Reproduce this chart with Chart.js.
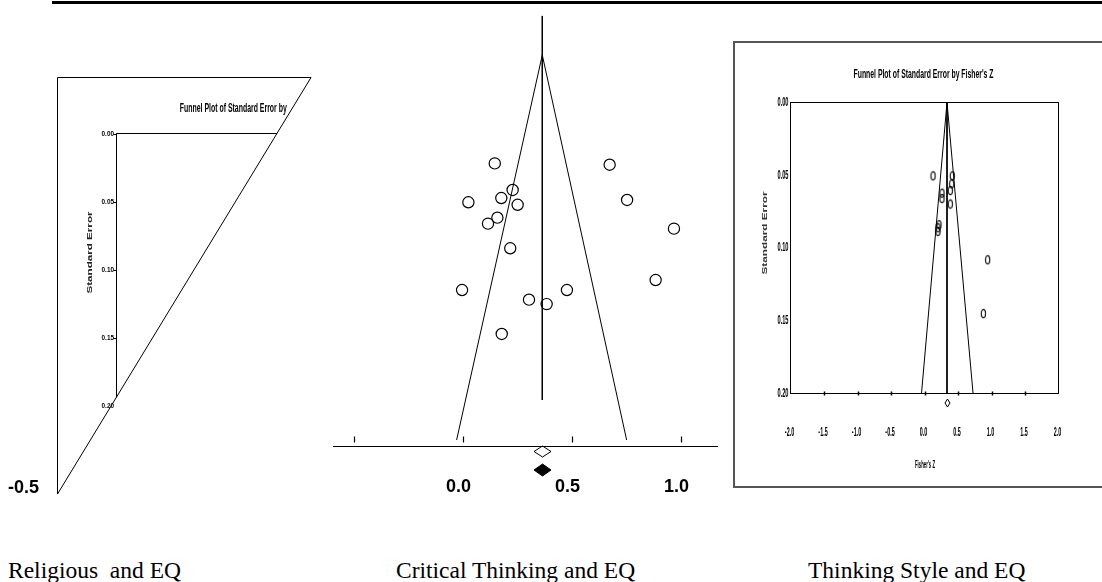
<!DOCTYPE html>
<html><head><meta charset="utf-8">
<script src="https://cdn.jsdelivr.net/npm/chart.js@4.4.1/dist/chart.umd.min.js"></script>
<style>
html,body{margin:0;padding:0;background:#fff;overflow:hidden;width:1102px;height:582px;}
#wrap{position:relative;width:1102px;height:582px;overflow:hidden;background:#fff;}
canvas{position:absolute;}
.cap{position:absolute;font-family:'Liberation Serif','Times New Roman',serif;font-size:23.5px;line-height:23.5px;white-space:pre;color:#000;top:559px;}
#lblNeg{position:absolute;left:8px;top:478px;font:bold 18px 'Liberation Sans',Arial,sans-serif;line-height:18px;color:#000;}
</style></head><body><div id="wrap">
<div style="position:absolute;left:52px;top:1px;width:1050px;height:3px;background:#000"></div>
<div style="position:absolute;left:733px;top:41px;width:400px;height:443px;border:2px solid #555;border-right:none;"></div>
<canvas id="c1" width="390" height="520" style="left:0;top:0"></canvas>
<canvas id="c2" width="400" height="500" style="left:330px;top:0"></canvas>
<canvas id="c3" width="366" height="440" style="left:736px;top:44px"></canvas>
<span id="lblNeg">-0.5</span>
<div class="cap" style="left:8px">Religious  and EQ</div>
<div class="cap" style="left:396px">Critical Thinking and EQ</div>
<div class="cap" style="left:808px">Thinking Style and EQ</div>
</div>
<script>
// ---------- shared tick data ----------
const seTicks = [0, 0.05, 0.10, 0.15, 0.20];
const seTickLabels = ['0.00', '0.05', '0.10', '0.15', '0.20'];

// ---------- Panel 1: Religious and EQ (cropped funnel frame) ----------
const reTitle = 'Funnel Plot of Standard Error by';
const reYTitle = 'Standard Error';
const reFrameX = [-2.887, 0.925, -2.887, -2.887];
const reFrameSE = [-0.0411, -0.0411, 0.2646, -0.0411];
const reBoxX = [0.413, -2, -2];
const reBoxSE = [0, 0, 0.1935];
const reTickValues = [0, 0.05, 0.10, 0.15];

// ---------- Panel 2: Critical Thinking and EQ ----------
const ctEffect = [0.148, 0.675, 0.230, 0.178, 0.027, 0.253, 0.755, 0.160, 0.117, 0.970, 0.219, 0.886, -0.002, 0.479, 0.305, 0.386, 0.180];
const ctSE     = [0.0563, 0.0570, 0.0701, 0.0743, 0.0765, 0.0778, 0.0753, 0.0845, 0.0876, 0.0902, 0.1004, 0.1169, 0.1221, 0.1221, 0.1271, 0.1294, 0.1449];
const ctMean = 0.366;
const ctFunnelX  = [-0.027, 0.366, 0.753];
const ctFunnelSE = [0.2, 0, 0.2];
const ctCenterSE = [-0.0203, 0.1792];
const ctTicks = [-0.5, 0, 0.5, 1.0];
const ctTickLabels = ['0.0', '0.5', '1.0'];
const ctLabelTicks = [0, 0.5, 1.0];
const ctSummarySE = [0.2061, 0.2156];

// ---------- Panel 3: Thinking Style and EQ ----------
const tsTitle = "Funnel Plot of Standard Error by Fisher's Z";
const tsXTitle = "Fisher's Z";
const tsYTitle = 'Standard Error';
const tsZ  = [0.127, 0.415, 0.406, 0.385, 0.261, 0.261, 0.385, 0.216, 0.201, 0.201, 0.943, 0.878];
const tsSE = [0.0504, 0.0504, 0.0559, 0.0605, 0.0623, 0.0660, 0.0698, 0.0840, 0.0861, 0.0886, 0.1081, 0.1451];
const tsMean = 0.336;
const tsFunnelZ  = [-0.045, 0.336, 0.725];
const tsFunnelSE = [0.2, 0, 0.2];
const tsXTicks = [-2.0, -1.5, -1.0, -0.5, 0.0, 0.5, 1.0, 1.5, 2.0];
const tsXTickLabels = ['-2.0', '-1.5', '-1.0', '-0.5', '0.0', '0.5', '1.0', '1.5', '2.0'];
const tsSummarySE = 0.2065;

// ---------- helpers ----------
const SANS = "'Liberation Sans', Arial, sans-serif";
function pts(xs, ys) { return xs.map((x, i) => ({x: x, y: ys[i]})); }
function lineDS(xs, ys, extra) {
  return Object.assign({data: pts(xs, ys), showLine: true, pointRadius: 0, pointHoverRadius: 0,
    borderColor: '#000', borderWidth: 1, clip: false, tension: 0, fill: false}, extra || {});
}
function diamond(w, h, filled, lw) {
  const c = document.createElement('canvas');
  c.width = w + 4; c.height = h + 4;
  const g = c.getContext('2d');
  g.beginPath();
  g.moveTo(c.width / 2, 2); g.lineTo(c.width - 2, c.height / 2);
  g.lineTo(c.width / 2, c.height - 2); g.lineTo(2, c.height / 2); g.closePath();
  if (filled) { g.fillStyle = '#000'; g.fill(); }
  g.lineWidth = lw; g.strokeStyle = '#000'; g.stroke();
  return c;
}
function zeroGlyph() {
  const c = document.createElement('canvas');
  c.width = 9; c.height = 13;
  const g = c.getContext('2d');
  g.beginPath(); g.ellipse(4.5, 6.5, 2.1, 4.1, 0, 0, Math.PI * 2);
  g.lineWidth = 1.1; g.strokeStyle = '#000'; g.stroke();
  return c;
}
function txt(ctx, str, x, y, font, o) {
  o = o || {};
  ctx.save();
  ctx.font = font;
  const m = ctx.measureText(str).width;
  const sx = o.width ? o.width / m : (o.sx || 1);
  ctx.translate(x, y);
  if (o.rot) ctx.rotate(o.rot);
  ctx.scale(sx, 1);
  ctx.textAlign = o.align || 'center';
  ctx.textBaseline = 'middle';
  ctx.fillStyle = o.color || '#000';
  ctx.fillText(str, 0, 0);
  ctx.restore();
}
function seg(ctx, x1, y1, x2, y2, lw) {
  ctx.save(); ctx.beginPath(); ctx.moveTo(x1, y1); ctx.lineTo(x2, y2);
  ctx.lineWidth = lw || 1; ctx.strokeStyle = '#000'; ctx.stroke(); ctx.restore();
}
function marker(ctx, img, X, Y) {
  ctx.drawImage(img, Math.round(X - img.width / 2), Math.round(Y - img.height / 2));
}
function makeChart(id, pad, xr, yr, datasets, drawFn) {
  return new Chart(document.getElementById(id), {
    type: 'scatter',
    data: {datasets: datasets},
    options: {
      responsive: false, animation: false, events: [],
      layout: {padding: pad},
      plugins: {legend: {display: false}, tooltip: {enabled: false}, title: {display: false}},
      scales: {
        x: {type: 'linear', display: false, min: xr[0], max: xr[1]},
        y: {type: 'linear', display: false, min: yr[0], max: yr[1], reverse: true}
      }
    },
    plugins: [{id: 'deco', afterDatasetsDraw(chart) {
      drawFn(chart, chart.ctx, chart.scales.x, chart.scales.y, chart.chartArea);
    }}]
  });
}

// ---------- Panel 1 ----------
makeChart('c1', {left: 116.5, right: 7.5, top: 133.5, bottom: 114}, [-2, 2], [0, 0.2], [
  lineDS(reFrameX, reFrameSE),
  lineDS(reBoxX, reBoxSE)
], function (chart, ctx, x, y, a) {
  reTickValues.forEach(v => { const Y = Math.round(y.getPixelForValue(v)) + 0.5; seg(ctx, a.left - 3, Y, a.left, Y, 1); });
  seTicks.forEach((v, i) => txt(ctx, seTickLabels[i], a.left - 2.5, y.getPixelForValue(v), 'bold 8px ' + SANS, {align: 'right', sx: 0.8}));
  txt(ctx, reTitle, 233.3, 108, 'bold 13px ' + SANS, {width: 107});
  txt(ctx, reYTitle, 90, 252.5, 'bold 7px ' + SANS, {width: 82, rot: -Math.PI / 2, color: '#222'});
});

// ---------- Panel 2 ----------
const hollowD = diamond(17, 11, false, 1);
const filledD = diamond(17, 12, true, 1);
makeChart('c2', {left: 23.5, right: 49.5, top: 55, bottom: 60}, [-0.5, 1.0], [0, 0.2], [
  lineDS(ctFunnelX, ctFunnelSE),
  lineDS([ctMean, ctMean], ctCenterSE),
  {data: pts(ctEffect, ctSE), pointStyle: 'circle', pointRadius: 5.6, pointHoverRadius: 5.6,
   pointBorderWidth: 1.2, borderColor: '#000', backgroundColor: 'rgba(0,0,0,0)', clip: false}
], function (chart, ctx, x, y, a) {
  const axY = a.bottom + 6.5;
  seg(ctx, x.getPixelForValue(-0.5) - 20.5, axY, x.getPixelForValue(1.0) + 37.5, axY, 1.2);
  ctTicks.forEach(v => { const X = Math.round(x.getPixelForValue(v)) + 0.5; seg(ctx, X, axY - 10, X, axY - 4, 1.2); });
  ctLabelTicks.forEach((v, i) => txt(ctx, ctTickLabels[i], x.getPixelForValue(v) - 4, axY + 41, 'bold 18px ' + SANS));
  const mX = x.getPixelForValue(ctMean);
  marker(ctx, hollowD, mX, y.getPixelForValue(ctSummarySE[0]));
  marker(ctx, filledD, mX, y.getPixelForValue(ctSummarySE[1]));
});

// ---------- Panel 3 ----------
const zG = zeroGlyph();
const tsD = diamond(5, 8, false, 1);
makeChart('c3', {left: 54.5, right: 43.5, top: 58.5, bottom: 90.5}, [-2, 2], [0, 0.2], [
  lineDS(tsFunnelZ, tsFunnelSE),
  lineDS([tsMean, tsMean], [0, 0.2]),
  {data: pts(tsZ, tsSE), pointStyle: zG, pointRadius: 4, clip: false}
], function (chart, ctx, x, y, a) {
  ctx.save(); ctx.lineWidth = 1; ctx.strokeStyle = '#000';
  ctx.strokeRect(a.left, a.top, a.right - a.left, a.bottom - a.top); ctx.restore();
  tsXTicks.forEach((v, i) => {
    const X = x.getPixelForValue(v);
    if (i > 0 && i < tsXTicks.length - 1) seg(ctx, Math.round(X) + 0.5, a.bottom - 2, Math.round(X) + 0.5, a.bottom + 2, 1.5);
    txt(ctx, tsXTickLabels[i], X - 1, a.bottom + 39.5, 'bold 12px ' + SANS, {sx: 0.45});
  });
  seTicks.forEach((v, i) => txt(ctx, seTickLabels[i], a.left - 2, y.getPixelForValue(v), 'bold 12px ' + SANS, {align: 'right', sx: 0.47}));
  txt(ctx, tsTitle, (a.left + a.right) / 2 - 1, a.top - 27.5, 'bold 12px ' + SANS, {width: 140});
  txt(ctx, tsYTitle, a.left - 25.5, 189, 'bold 7px ' + SANS, {width: 83, rot: -Math.PI / 2, color: '#333'});
  txt(ctx, tsXTitle, 189, a.bottom + 71.5, 'bold 10px ' + SANS, {width: 20});
  marker(ctx, tsD, x.getPixelForValue(tsMean), y.getPixelForValue(tsSummarySE));
});
</script>
</body></html>
